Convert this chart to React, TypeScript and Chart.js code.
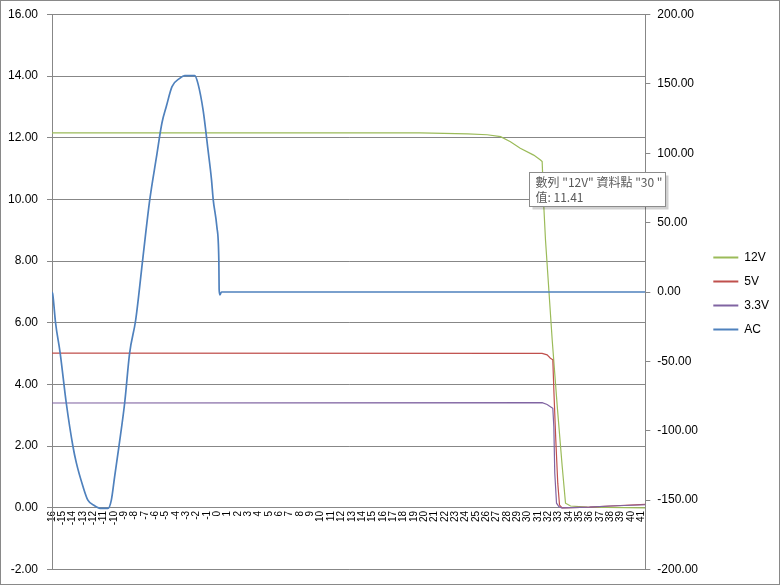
import React, { useEffect, useRef } from "react";
import { Chart, registerables, Plugin } from "chart.js";

Chart.register(...registerables);

// time axis in ms, rails on the left axis (V), mains on the right axis (V)
const xTicks = [
  -16, -15, -14, -13, -12, -11, -10, -9, -8, -7, -6, -5, -4, -3, -2, -1, 0, 1, 2, 3,
  4, 5, 6, 7, 8, 9, 10, 11, 12, 13, 14, 15, 16, 17, 18, 19, 20, 21, 22, 23, 24, 25,
  26, 27, 28, 29, 30, 31, 32, 33, 34, 35, 36, 37, 38, 39, 40, 41,
];
const leftTicks = [-2, 0, 2, 4, 6, 8, 10, 12, 14, 16];
const rightTicks = [-200, -150, -100, -50, 0, 50, 100, 150, 200];

const seriesNames = ["12V", "5V", "3.3V", "AC"];
const seriesColors = ["#9BBB59", "#C0504D", "#8064A2", "#4F81BD"];

const v12Ms = [-16, 19.6, 24.2, 26.1, 27.4, 28.35, 29.3, 30.6, 31.26, 31.42, 31.58, 31.74, 32.39, 32.88, 33.36, 33.68, 34.17, 35.78, 41.4];
const v12Volts = [12.16, 12.16, 12.13, 12.1, 12.04, 11.87, 11.66, 11.44, 11.28, 11.23, 9.77, 8.7, 5.45, 3.29, 1.34, 0.15, 0.06, 0.02, 0.0];

const v5Ms = [-16, 31.42, 31.9, 32.22, 32.45, 32.55, 32.74, 32.93, 33.1, 33.36, 36.0, 38.0, 41.4];
const v5Volts = [5.02, 5.01, 4.96, 4.85, 4.8, 3.83, 2.2, 0.8, 0.09, 0.0, 0.02, 0.06, 0.11];

const v33Ms = [-16, 31.42, 31.9, 32.22, 32.45, 32.55, 32.64, 32.81, 33.03, 33.3, 36.0, 38.0, 41.4];
const v33Volts = [3.4, 3.41, 3.35, 3.28, 3.23, 2.63, 1.13, 0.15, 0.04, 0.0, 0.02, 0.06, 0.1];

const acMs = [
  -16, -15.92, -15.66, -15.21, -14.62, -13.98, -13.65, -13.01, -12.53, -11.88, -11.23,
  -10.59, -10.26, -9.94, -9.52, -8.97, -8.49, -7.9, -7.2, -6.55, -5.9, -5.36, -4.93,
  -4.39, -3.64, -3.16, -2.19, -1.87, -1.38, -0.9, -0.57, -0.41, -0.05, 0.14, 0.17,
  0.24, 0.4, 41.4,
];
const acVolts = [
  0, -2, -22, -44, -80, -111, -123, -140, -150, -154, -156, -156, -150, -133, -111,
  -80, -44, -20, 25, 66, 97, 122, 134, 148, 154, 156, 156, 150, 131, 102, 81, 67, 47,
  23, 2, -2, 0, 0,
];

const tipLines = ['數列 "12V" 資料點 "30 "', "值: 11.41"];

const FONT = '"Liberation Sans", Arial, sans-serif';
const GRID = "#878787";

const toPoints = (xs: number[], ys: number[]) => xs.map((x, i) => ({ x, y: ys[i] }));

// the Excel hover box that was captured with the chart
const hoverBox: Plugin<"line"> = {
  id: "hoverBox",
  afterDraw(chart) {
    const { ctx } = chart;
    const left = 528.5;
    const top = 171.5;
    const w = 136;
    const h = 34;
    ctx.save();
    ctx.fillStyle = "rgba(0,0,0,0.18)";
    ctx.fillRect(left + 3, top + 3, w, h);
    ctx.fillStyle = "#ffffff";
    ctx.fillRect(left, top, w, h);
    ctx.strokeStyle = "#8c8c8c";
    ctx.lineWidth = 1;
    ctx.strokeRect(left, top, w, h);
    ctx.fillStyle = "#595959";
    ctx.font = '12px "Noto Sans CJK TC", sans-serif';
    ctx.textBaseline = "middle";
    ctx.fillText(tipLines[0], left + 6, top + 9.5);
    ctx.fillText(tipLines[1], left + 6, top + 24.5);
    ctx.restore();
  },
};

const App = () => {
  const canvasRef = useRef<HTMLCanvasElement | null>(null);

  useEffect(() => {
    const ctx = canvasRef.current?.getContext("2d");
    if (!ctx) return;

    const line = { pointRadius: 0, tension: 0, fill: false };

    const chart = new Chart(ctx, {
      type: "line",
      data: {
        datasets: [
          { ...line, label: seriesNames[0], data: toPoints(v12Ms, v12Volts), borderColor: seriesColors[0], borderWidth: 1.2, yAxisID: "y", order: 4 },
          { ...line, label: seriesNames[1], data: toPoints(v5Ms, v5Volts), borderColor: seriesColors[1], borderWidth: 1.2, yAxisID: "y", order: 3 },
          { ...line, label: seriesNames[2], data: toPoints(v33Ms, v33Volts), borderColor: seriesColors[2], borderWidth: 1.2, yAxisID: "y", order: 2 },
          { ...line, label: seriesNames[3], data: toPoints(acMs, acVolts), borderColor: seriesColors[3], borderWidth: 1.7, yAxisID: "y1", order: 1, cubicInterpolationMode: "monotone" },
        ],
      },
      options: {
        animation: false,
        responsive: false,
        events: [],
        layout: { padding: { top: 13.5, bottom: 14.5, left: 0, right: 0 } },
        plugins: {
          tooltip: { enabled: false },
          legend: {
            position: "right",
            align: "center",
            // empty title only nudges the entries down a little
            title: { display: true, text: "", padding: 0, font: { size: 3, lineHeight: 1 } },
            labels: {
              usePointStyle: true,
              pointStyleWidth: 25,
              padding: 12,
              color: "#000",
              font: { family: FONT, size: 12 },
              generateLabels: () =>
                seriesNames.map((name, i) => ({
                  text: name,
                  datasetIndex: i,
                  pointStyle: "line",
                  strokeStyle: seriesColors[i],
                  fillStyle: seriesColors[i],
                  lineWidth: 2,
                  hidden: false,
                  fontColor: "#000",
                })),
            },
          },
        },
        scales: {
          x: {
            type: "linear",
            position: { y: 0 },
            min: xTicks[0],
            max: acMs[acMs.length - 1],
            afterBuildTicks: (scale) => {
              scale.ticks = xTicks.map((value) => ({ value }));
            },
            ticks: {
              autoSkip: false,
              minRotation: 90,
              maxRotation: 90,
              padding: 3,
              color: "#000",
              font: { family: FONT, size: 10 },
              callback: (v) => String(v),
            },
            grid: { display: false, drawTicks: false },
            border: { display: true, color: GRID, width: 1 },
          },
          y: {
            position: "left",
            min: leftTicks[0],
            max: leftTicks[leftTicks.length - 1],
            afterBuildTicks: (scale) => {
              scale.ticks = leftTicks.map((value) => ({ value }));
            },
            afterFit: (scale) => {
              scale.width = 51;
              scale.paddingTop = 0;
              scale.paddingBottom = 0;
            },
            ticks: {
              padding: 9,
              color: "#000",
              font: { family: FONT, size: 12 },
              callback: (v) => Number(v).toFixed(2),
            },
            grid: { color: GRID, tickColor: GRID, tickLength: 5, lineWidth: 1 },
            border: { color: GRID, width: 1 },
          },
          y1: {
            position: "right",
            min: rightTicks[0],
            max: rightTicks[rightTicks.length - 1],
            afterBuildTicks: (scale) => {
              scale.ticks = rightTicks.map((value) => ({ value }));
            },
            afterFit: (scale) => {
              scale.width = 56;
              scale.paddingTop = 0;
              scale.paddingBottom = 0;
            },
            ticks: {
              padding: 7,
              color: "#000",
              font: { family: FONT, size: 12 },
              callback: (v) => Number(v).toFixed(2),
            },
            grid: { drawOnChartArea: false, color: GRID, tickLength: 5 },
            border: { color: GRID, width: 1 },
          },
        },
      },
      plugins: [hoverBox],
    });

    return () => {
      chart.destroy();
    };
  }, []);

  return (
    <div
      style={{
        position: "absolute",
        left: 0,
        top: 0,
        width: 780,
        height: 585,
        boxSizing: "border-box",
        border: "1px solid #898989",
        background: "#fff",
      }}
    >
      <canvas ref={canvasRef} width={778} height={583} style={{ display: "block" }} />
    </div>
  );
};

export default App;
